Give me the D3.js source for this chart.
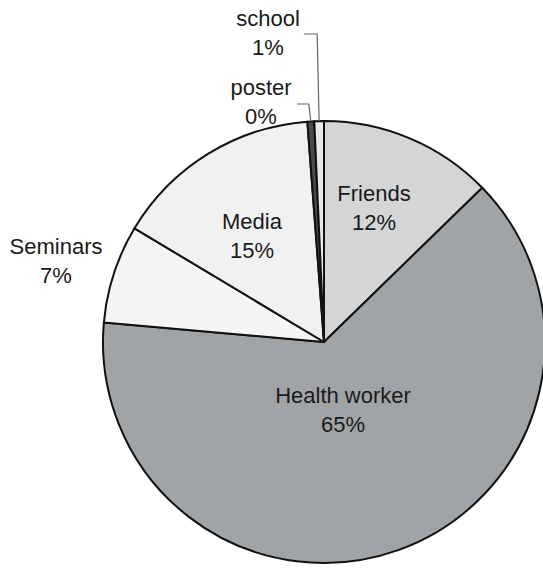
<!DOCTYPE html>
<html><head><meta charset="utf-8">
<script src="https://cdn.jsdelivr.net/npm/d3@7"></script>
<style>html,body{margin:0;padding:0;background:#fff;}svg{display:block;}</style>
</head><body>
<svg id="c" width="543" height="571"></svg>
<script>
// ---- data ----
const categories = ["Friends", "Health worker", "Seminars", "Media", "poster", "school"];
const values = [12.7, 63.7, 7.2, 15.2, 0.5, 0.7];
const percentLabels = ["12%", "65%", "7%", "15%", "0%", "1%"];
const fills = ["#d3d5d7", "#a1a4a6", "#f5f5f5", "#f1f1f1", "#4a4a4a", "#e9e9e9"];

// ---- layout ----
const W = 543, H = 571;
const cx = 324, cy = 342, R = 221;
const fontSize = 22, lineGap = 29;
// label anchor (centre of first line baseline) relative to pie centre
const labelOffsets = {
  "Friends": [50, -141],
  "Health worker": [19, 61],
  "Seminars": [-268, -88],
  "Media": [-72, -113],
  "poster": [-63, -247],
  "school": [-56, -316]
};
// leader elbows for outside labels: [elbowY offset, horizontal end x offset]
const leaders = {
  "poster": {elbowY: -238, startX: -27},
  "school": {elbowY: -308, startX: -20}
};

const svg = d3.select("#c");
const g = svg.append("g").attr("transform", `translate(${cx},${cy})`);

const data = categories.map((c, i) => ({cat: c, value: values[i], pct: percentLabels[i], fill: fills[i]}));
const pie = d3.pie().sort(null).value(d => d.value).startAngle(0).endAngle(2 * Math.PI);
const arcs = pie(data);
const arc = d3.arc().innerRadius(0).outerRadius(R);

g.selectAll("path.slice").data(arcs).join("path")
  .attr("class", "slice")
  .attr("d", arc)
  .attr("fill", d => d.data.fill)
  .attr("stroke", "#111")
  .attr("stroke-width", 2)
  .attr("stroke-linejoin", "round");

// leader lines
arcs.forEach(a => {
  const L = leaders[a.data.cat];
  if (!L) return;
  const mid = (a.startAngle + a.endAngle) / 2;
  const ex = R * Math.sin(mid), ey = -R * Math.cos(mid);
  const path = d3.path();
  path.moveTo(L.startX, L.elbowY);
  path.lineTo(ex - 2, L.elbowY);
  path.lineTo(ex, ey);
  g.append("path").attr("d", path.toString())
    .attr("fill", "none").attr("stroke", "#666").attr("stroke-width", 1.2);
});

// labels
arcs.forEach(a => {
  const off = labelOffsets[a.data.cat];
  const t = g.append("text")
    .attr("text-anchor", "middle")
    .attr("font-family", "Liberation Sans, Arial, sans-serif")
    .attr("font-size", fontSize)
    .attr("fill", "#1a1a1a");
  t.append("tspan").attr("x", off[0]).attr("y", off[1]).text(a.data.cat);
  t.append("tspan").attr("x", off[0]).attr("y", off[1] + lineGap).text(a.data.pct);
});
</script>
</body></html>
